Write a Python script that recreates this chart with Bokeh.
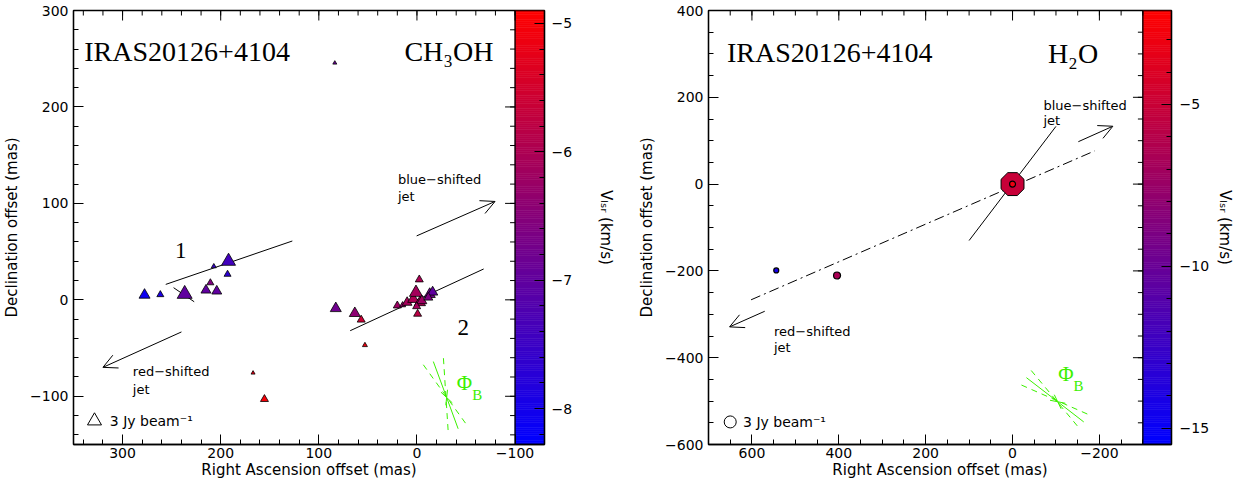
import numpy as np
from bokeh.plotting import figure
from bokeh.models import (Range1d, LinearAxis, FixedTicker, LinearColorMapper,
                          ColumnDataSource, Arrow, OpenHead, CustomJSTickFormatter)
from bokeh.layouts import row
from bokeh.core.properties import value
from bokeh.embed import file_html
from bokeh.resources import INLINE

# ---------------- CH3OH maser spots (left panel) ----------------
ch3oh_ra = [277.6, 261.5, 236.7, 215.0, 210.5, 204.0, 207.0, 192.0, 193.0,
            83.7, 167.0, 155.4,
            82.7, 63.3, 56.8, 53.0, 20.0, 14.6, 10.0, 3.7, 1.0, -2.4, -3.0,
            -5.0, -0.7, 0.3, -13.0, -16.0, -11.6]
ch3oh_dec = [5.0, 5.4, 6.0, 10.0, 17.7, 9.0, 34.7, 40.0, 26.5,
             245.6, -75.8, -103.0,
             -8.9, -14.0, -20.7, -47.0, -6.0, -5.4, -2.7, 0.7, 7.5, 21.0, -2.7,
             -1.0, -14.6, -6.8, 5.8, 8.0, 2.4]
ch3oh_flux = [2.36, 1.5, 3.21, 2.14, 1.5, 2.14, 1.07, 3.0, 1.5,
              0.86, 0.86, 1.71,
              2.36, 2.36, 1.71, 1.07, 1.71, 1.29, 2.1, 2.4, 2.8, 1.71, 2.4,
              2.14, 1.71, 1.71, 2.4, 2.2, 1.93]
ch3oh_vlsr = [-8.1, -7.9, -7.0, -7.0, -6.6, -7.0, -7.6, -7.4, -7.7,
              -6.9, -5.2, -5.0,
              -6.8, -6.4, -5.6, -5.1, -6.2, -6.3, -6.1, -6.0, -6.1, -6.0, -6.0,
              -6.2, -5.8, -6.1, -6.8, -7.0, -6.6]

# ---------------- H2O maser spots (right panel) ----------------
h2o_ra = [544.0, 404.0, 0.0]
h2o_dec = [-199.0, -210.6, 0.0]
h2o_flux = [1.25, 1.75, 1.5]
h2o_vlsr = [-14.3, -6.5, -3.0]
h2o_big_ra = [0.0]
h2o_big_dec = [0.0]
h2o_big_flux = [6.2]
h2o_big_vlsr = [-5.0]

# ---------------- annotations (data coordinates, mas) ----------------
l_jet1 = ([256.0, 127.0], [16.0, 61.0])
l_jet2 = ([68.0, -68.0], [-32.0, 32.0])
l_short = ([248.0, 227.0], [12.6, -2.0])
l_red_arrow = (240.0, -33.3, 320.0, -70.0)
l_blue_arrow = (0.3, 66.3, -79.6, 102.0)
l_phi_center = (-30.3, -101.3)
l_phi_ends = [(-16.7, -64.0), (-42.0, -133.7)]
l_phi_err = [((-27.0, -60.5), (-32.0, -138.8)), ((-6.5, -67.3), (-52.4, -132.0))]
r_outflow = ([602.0, -189.0], [-266.6, 76.5])
r_jet = ([100.0, -100.0], [-130.0, 133.0])
r_blue_arrow = (-151.5, 97.7, -231.0, 133.3)
r_red_arrow = (570.5, -293.0, 651.5, -329.0)
r_phi_center = (-104.0, -501.5)
r_phi_ends = [(-32.0, -446.0), (-164.0, -548.0)]
r_phi_err = [((-20.5, -463.0), (-179.5, -533.0)), ((-43.0, -429.5), (-154.5, -563.6))]

BEAM_FLUX = 3.0
GREEN = "#3cf000"
SANS = "DejaVu Sans"
SERIF = "Liberation Serif"

FIG_H = 481
B_TOP, B_BOT = 10, 37
FRAME_H = FIG_H - B_TOP - B_BOT
MAJ_TICK, MIN_TICK = 10, 5

palette = ["#%02x00%02x" % (int(round(255 * t)), int(round(255 * (1 - t))))
           for t in np.linspace(0, 1, 256)]

fmt = CustomJSTickFormatter(code="return tick < 0 ? '\u2212' + Math.abs(tick) : String(tick);")


def style_axis(ax, major, minor):
    ax.ticker = FixedTicker(ticks=list(major), minor_ticks=list(minor))
    ax.formatter = fmt
    ax.major_tick_in = MAJ_TICK
    ax.major_tick_out = 0
    ax.minor_tick_in = MIN_TICK
    ax.minor_tick_out = 0
    ax.axis_line_color = "black"
    ax.axis_line_width = 1.3
    ax.major_tick_line_color = "black"
    ax.minor_tick_line_color = "black"
    ax.major_label_text_font = SANS
    ax.major_label_text_color = "black"
    ax.major_label_text_font_size = "14px"
    ax.major_label_standoff = 5
    ax.axis_label_text_font = SANS
    ax.axis_label_text_font_size = "15px"
    ax.axis_label_text_font_style = "normal"
    ax.axis_label_text_color = "black"


def panel(width, bl, br, xr, yr, cbr, cbx, xmaj, xmin, ymaj, ymin, cmaj, cmin,
          ylabel_standoff, cb_label_standoff, cb_standoff):
    p = figure(width=width, height=FIG_H, title=None,
               x_range=Range1d(*xr), y_range=Range1d(*yr),
               output_backend="svg", toolbar_location=None,
               min_border_left=bl, min_border_right=br,
               min_border_top=B_TOP, min_border_bottom=B_BOT)
    p.border_fill_color = "white"
    p.extra_y_ranges = {"cb": Range1d(*cbr)}
    p.xgrid.visible = False
    p.ygrid.visible = False
    p.outline_line_color = "black"
    p.outline_line_width = 1.3
    p.background_fill_color = "white"

    style_axis(p.xaxis[0], xmaj, xmin)
    p.xaxis[0].axis_label = "Right Ascension offset (mas)"
    p.xaxis[0].major_label_standoff = 3
    p.xaxis[0].axis_label_standoff = 0
    style_axis(p.yaxis[0], ymaj, ymin)
    p.yaxis[0].axis_label = "Declination offset (mas)"
    p.yaxis[0].axis_label_standoff = ylabel_standoff

    cax = LinearAxis(y_range_name="cb", axis_label="V\u2097\u209b\u1d63 (km/s)")
    style_axis(cax, cmaj, cmin)
    cax.major_label_standoff = cb_standoff
    cax.axis_label_standoff = cb_label_standoff
    p.add_layout(cax, "right")

    mapper = LinearColorMapper(palette=palette, low=cbr[0], high=cbr[1])

    # colour bar strip drawn inside the frame
    levels = np.linspace(cbr[0], cbr[1], 201)
    mids = 0.5 * (levels[:-1] + levels[1:])
    cb_src = ColumnDataSource(dict(bottom=levels[:-1], top=levels[1:], mid=mids))
    p.quad(left=cbx[0], right=cbx[1], bottom="bottom", top="top", source=cb_src,
           fill_color={"field": "mid", "transform": mapper},
           line_color={"field": "mid", "transform": mapper}, line_width=0.6,
           y_range_name="cb")
    p.quad(left=[cbx[0]], right=[cbx[1]], bottom=[cbr[0]], top=[cbr[1]],
           fill_color=None, line_color="black", line_width=1.3, y_range_name="cb")

    # mirrored ticks: declination on the colour bar's left edge, RA along the top
    frame_w = width - bl - br
    px_x = frame_w / abs(xr[0] - xr[1])
    px_y = FRAME_H / abs(yr[1] - yr[0])
    ymaj, ymin = list(ymaj), list(ymin)
    p.segment(x0=[cbx[0]] * len(ymaj), x1=[cbx[0] + MAJ_TICK / px_x] * len(ymaj),
              y0=ymaj, y1=ymaj, line_color="black")
    p.segment(x0=[cbx[0]] * len(ymin), x1=[cbx[0] + MIN_TICK / px_x] * len(ymin),
              y0=ymin, y1=ymin, line_color="black")
    xmaj, xmin = list(xmaj), list(xmin)
    p.segment(x0=xmaj, x1=xmaj, y0=[yr[1]] * len(xmaj),
              y1=[yr[1] - MAJ_TICK / px_y] * len(xmaj), line_color="black")
    p.segment(x0=xmin, x1=xmin, y0=[yr[1]] * len(xmin),
              y1=[yr[1] - MIN_TICK / px_y] * len(xmin), line_color="black")
    return p, mapper


def txt(p, xs, ys, texts, font, size, color="black", align="left", baseline="alphabetic"):
    p.text(x=xs, y=ys, text=texts, text_font=value(font), text_font_size=size,
           text_color=color, text_align=align, text_baseline=baseline)


def arrow(p, a, head=14, color="black"):
    p.add_layout(Arrow(end=OpenHead(size=head, line_color=color, line_width=1),
                       x_start=a[0], y_start=a[1], x_end=a[2], y_end=a[3],
                       line_color=color, line_width=1))


def phi_b(p, center, ends, errs, lab_phi, lab_b):
    for e in ends:
        arrow(p, (e[0], e[1], center[0], center[1]), head=7, color=GREEN)
    for (a, b) in errs:
        p.segment(x0=[a[0]], y0=[a[1]], x1=[b[0]], y1=[b[1]],
                  line_color=GREEN, line_dash="6 5", line_width=1)
    txt(p, [lab_phi[0]], [lab_phi[1]], ["\u03a6"], SERIF, "21px", GREEN,
        align="center", baseline="middle")
    txt(p, [lab_b[0]], [lab_b[1]], ["B"], SERIF, "15px", GREEN,
        align="center", baseline="middle")


# ======================= left panel =======================
XR1, YR1, CB1, CBX1 = (350, -130), (-150, 300), (-8.28, -4.9), (-100, -130)
p1, m1 = panel(628, 73, 84, XR1, YR1, CB1, CBX1,
               xmaj=[300, 200, 100, 0, -100], xmin=np.arange(-100, 351, 20),
               ymaj=[-100, 0, 100, 200, 300], ymin=np.arange(-140, 301, 20),
               cmaj=[-8, -7, -6, -5], cmin=np.round(np.arange(-8.2, -4.89, 0.2), 2),
               ylabel_standoff=6, cb_label_standoff=22, cb_standoff=7)

p1.line(x=l_jet1[0], y=l_jet1[1], line_color="black", line_width=1)
p1.line(x=l_jet2[0], y=l_jet2[1], line_color="black", line_width=1)
p1.line(x=l_short[0], y=l_short[1], line_color="black", line_width=1)
arrow(p1, l_red_arrow)
arrow(p1, l_blue_arrow)

K1 = 14.0 / BEAM_FLUX  # marker px per Jy/beam
src1 = ColumnDataSource(dict(ra=ch3oh_ra, dec=ch3oh_dec, v=ch3oh_vlsr,
                             sz=[f * K1 for f in ch3oh_flux]))
p1.scatter(x="ra", y="dec", size="sz", marker="triangle", source=src1,
           fill_color={"field": "v", "transform": m1}, line_color="black", line_width=0.8)

p1.scatter(x=[328.6], y=[-125.5], size=BEAM_FLUX * K1, marker="triangle",
           fill_color=None, line_color="black", line_width=1)
txt(p1, [313.0], [-125.5], ["3 Jy beam\u207b\u00b9"], SANS, "14px", baseline="middle")

txt(p1, [339.0], [257.0], ["IRAS20126+4104"], SERIF, "28px")
txt(p1, [-78.0], [257.0], ["CH\u2083OH"], SERIF, "28px", align="right")
txt(p1, [240.8], [51.0], ["1"], SERIF, "23px", align="center")
txt(p1, [-47.3], [-28.3], ["2"], SERIF, "23px", align="center")
txt(p1, [19.4, 19.4], [124.8, 107.0], ["blue\u2212shifted", "jet"], SANS, "13px")
txt(p1, [289.5, 289.5], [-74.8, -92.9], ["red\u2212shifted", "jet"], SANS, "13px")
phi_b(p1, l_phi_center, l_phi_ends, l_phi_err, (-48.3, -86.0), (-61.5, -98.5))

# ======================= right panel =======================
XR2, YR2, CB2, CBX2 = (700, -366), (-600, 400), (-15.5, -2.1), (-300, -366)
p2, m2 = panel(609, 80, 60, XR2, YR2, CB2, CBX2,
               xmaj=[600, 400, 200, 0, -200], xmin=np.arange(-300, 701, 50),
               ymaj=[-600, -400, -200, 0, 200, 400], ymin=np.arange(-600, 401, 50),
               cmaj=[-15, -10, -5], cmin=np.arange(-15, -2, 1),
               ylabel_standoff=6, cb_label_standoff=4, cb_standoff=8)

p2.line(x=r_outflow[0], y=r_outflow[1], line_color="black", line_width=1,
        line_dash="10 4 2 4")
p2.line(x=r_jet[0], y=r_jet[1], line_color="black", line_width=1)
arrow(p2, r_blue_arrow)
arrow(p2, r_red_arrow)

K2 = 12.0 / BEAM_FLUX
big_colors = [m2.palette[int((v - CB2[0]) / (CB2[1] - CB2[0]) * 255)] for v in h2o_big_vlsr]
try:
    p2.ngon(x=h2o_big_ra, y=h2o_big_dec, radius=[f * K2 / 2 for f in h2o_big_flux],
            radius_units="screen", n=8, angle=np.pi / 8,
            fill_color=big_colors, line_color="black", line_width=1)
except Exception:
    p2.scatter(x=h2o_big_ra, y=h2o_big_dec, size=[f * K2 for f in h2o_big_flux],
               marker="hex", fill_color=big_colors, line_color="black", line_width=1)

src2 = ColumnDataSource(dict(ra=h2o_ra, dec=h2o_dec, v=h2o_vlsr,
                             sz=[f * K2 for f in h2o_flux]))
p2.scatter(x="ra", y="dec", size="sz", marker="circle", source=src2,
           fill_color={"field": "v", "transform": m2}, line_color="black", line_width=1.2)

p2.scatter(x=[650.0], y=[-548.0], size=BEAM_FLUX * K2, marker="circle",
           fill_color=None, line_color="black", line_width=1)
txt(p2, [620.5], [-548.0], ["3 Jy beam\u207b\u00b9"], SANS, "14px", baseline="middle")

txt(p2, [657.5], [304.0], ["IRAS20126+4104"], SERIF, "28px")
txt(p2, [-197.0], [300.0], ["H\u2082O"], SERIF, "28px", align="right")
txt(p2, [-71.1, -71.1], [181.0, 146.0], ["blue\u2212shifted", "jet"], SANS, "13px")
txt(p2, [549.3, 549.3], [-338.6, -375.7], ["red\u2212shifted", "jet"], SANS, "13px")
phi_b(p2, r_phi_center, r_phi_ends, r_phi_err, (-122.7, -438.6), (-152.0, -466.0))

layout = row(p1, p2)
open("out.html", "w").write(file_html(layout, INLINE))
